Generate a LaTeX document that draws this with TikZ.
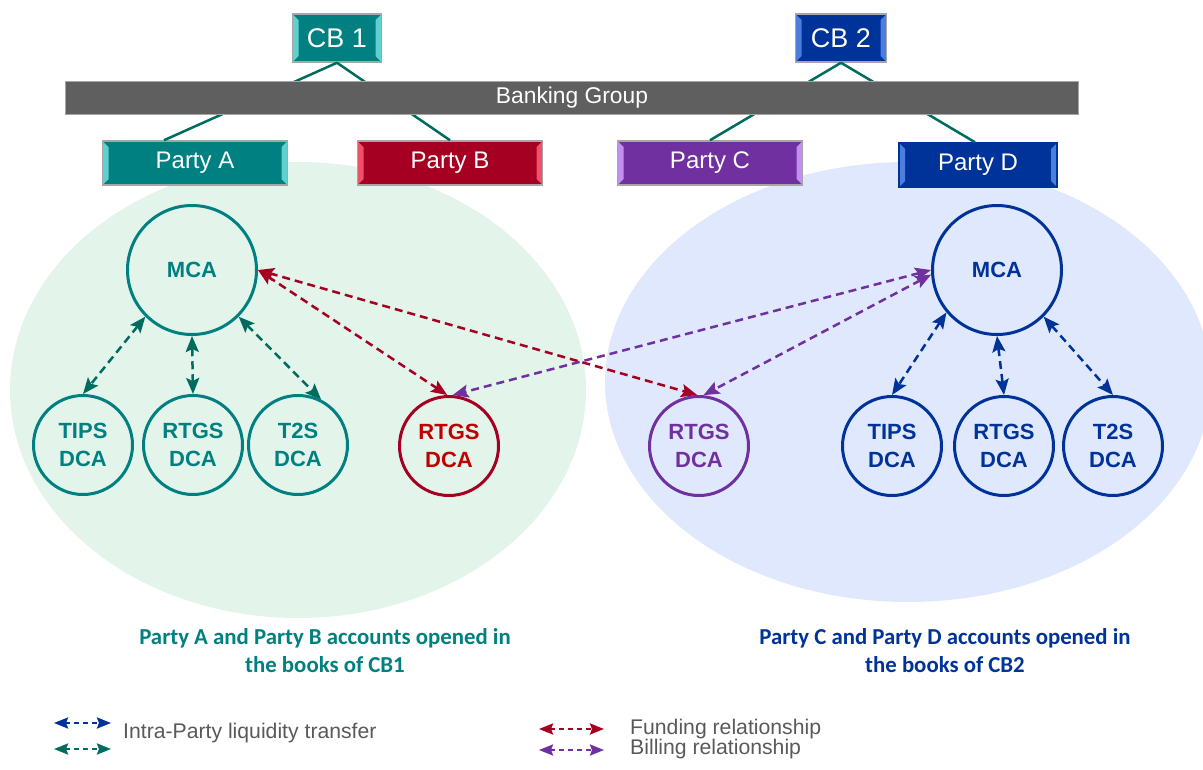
\documentclass[tikz,border=0pt]{standalone}
\usepackage{fontspec}
\setmainfont{Liberation Sans}
\newfontfamily\captfont{Carlito}
\usetikzlibrary{arrows.meta}
\definecolor{boxline}{HTML}{A6A6A6}
\definecolor{barfill}{HTML}{5F5F5F}
\definecolor{tealbox}{HTML}{008080}
\definecolor{tealhi}{HTML}{5FD0CE}
\definecolor{tealdark}{HTML}{006B5F}
\definecolor{redbox}{HTML}{A50021}
\definecolor{redhi}{HTML}{F0506A}
\definecolor{redtext}{HTML}{C00000}
\definecolor{purpbox}{HTML}{7030A0}
\definecolor{purphi}{HTML}{C38EF0}
\definecolor{bluebox}{HTML}{003399}
\definecolor{bluehi}{HTML}{4C7EE0}
\definecolor{greenarea}{HTML}{E3F5EB}
\definecolor{bluearea}{HTML}{DFE8FC}
\definecolor{legendgrey}{HTML}{595959}

\begin{document}
\begin{tikzpicture}[x=1pt,y=-1pt,
		box/.style 2 args={draw=boxline,line width=1.5pt,fill=#1,text=white,inner sep=0pt,
			path picture={
				\fill[#2] (path picture bounding box.north west) -- ++(6pt,-6pt) -- ([xshift=6pt,yshift=6pt]path picture bounding box.south west) -- (path picture bounding box.south west) -- cycle;
				\fill[#2] (path picture bounding box.north east) -- ++(-6pt,-6pt) -- ([xshift=-6pt,yshift=6pt]path picture bounding box.south east) -- (path picture bounding box.south east) -- cycle;
			}},
		cbbox/.style={minimum width=89pt,minimum height=48pt,font=\fontsize{27}{30}\selectfont},
		partybox/.style={minimum width=185pt,minimum height=44pt,font=\fontsize{24}{27}\selectfont},
		acc/.style={circle,draw=#1,text=#1,line width=3pt,minimum size=99pt,inner sep=0pt,align=center,font=\bfseries\fontsize{22}{28}\selectfont},
		mca/.style={acc=#1,minimum size=129pt},
		tree/.style={draw=tealdark,line width=2.5pt},
		link/.style={draw=#1,line width=2.5pt,dash pattern=on 8pt off 5pt,>={Stealth[length=16pt,width=13pt,inset=3pt]},<->},
		caption/.style={text=#1,align=center,font=\captfont\bfseries\fontsize{22.8}{28}\selectfont},
		legend/.style={anchor=west,inner sep=0pt,text=legendgrey,font=\fontsize{21.2}{24}\selectfont}]
	\useasboundingbox (0,0) rectangle (1203,769);
	\fill[greenarea] (298,390) ellipse [x radius=288pt,y radius=228pt];
	\fill[bluearea] (908,382) ellipse [x radius=303pt,y radius=220pt];

	\node[box={tealbox}{tealhi},cbbox] (cb1) at (337,38) {CB 1};
	\node[box={bluebox}{bluehi},cbbox,minimum width=91pt] (cb2) at (841,38) {CB 2};
	\node[box={tealbox}{tealhi},partybox] (pa) at (195,163) {Party A};
	\node[box={redbox}{redhi},partybox] (pb) at (450,163) {Party B};
	\node[box={purpbox}{purphi},partybox] (pc) at (710,163) {Party C};
	\node[box={bluebox}{bluehi},partybox,minimum width=158pt,draw=bluebox] (pd) at (978,165) {Party D};

	\draw[tree] (cb1.south) -- ([xshift=-31pt]pa.north);
	\draw[tree] (cb1.south) -- (pb.north);
	\draw[tree] (cb2.south) -- (pc.north);
	\draw[tree] (cb2.south) -- ([xshift=-3pt]pd.north);
	\node[draw=boxline,line width=1.5pt,fill=barfill,text=white,minimum width=1013pt,minimum height=33pt,font=\fontsize{22.8}{25}\selectfont] (bg) at (572,98) {Banking Group};

	\node[mca=tealbox] (mcaA) at (192,270) {MCA};
	\node[acc=tealbox] (tipsA) at (83,445) {TIPS\\DCA};
	\node[acc=tealbox] (rtgsA) at (193,445) {RTGS\\DCA};
	\node[acc=tealbox] (t2sA) at (298,445) {T2S\\DCA};
	\node[acc=redbox,text=redtext] (rtgsB) at (449,446) {RTGS\\DCA};
	\node[acc=purpbox] (rtgsC) at (699,446) {RTGS\\DCA};
	\node[mca=bluebox] (mcaD) at (997,270) {MCA};
	\node[acc=bluebox] (tipsD) at (892,446) {TIPS\\DCA};
	\node[acc=bluebox] (rtgsD) at (1004,446) {RTGS\\DCA};
	\node[acc=bluebox] (t2sD) at (1113,446) {T2S\\DCA};

	\draw[link=tealdark] (mcaA.225) -- (tipsA.north);
	\draw[link=tealdark] (mcaA.south) -- (rtgsA.north);
	\draw[link=tealdark] (mcaA.-45) -- (t2sA.63);
	\draw[link=bluebox] (mcaD.220) -- (tipsD.north);
	\draw[link=bluebox] (mcaD.south) -- (rtgsD.north);
	\draw[link=bluebox] (mcaD.-45) -- (t2sD.north);
	\draw[link=redbox] (mcaA.east) -- (rtgsB.92);
	\draw[link=redbox] (mcaA.east) -- (rtgsC.92);
	\draw[link=purpbox] (mcaD.west) -- (rtgsB.86);
	\draw[link=purpbox] (mcaD.184) -- (rtgsC.85);

	\node[caption=tealbox] (capA) at (325,651) {Party A and Party B accounts opened in\\the books of CB1};
	\node[caption=bluebox] (capD) at (945,651) {Party C and Party D accounts opened in\\the books of CB2};

	\foreach \nm/\px/\py/\len/\cl in {intra1/54/723/57/bluebox,intra2/54/749/57/tealdark,fund/539/729/65/redbox,bill/539/750/65/purpbox}{
		\coordinate (\nm-s) at (\px,\py);
		\coordinate (\nm-e) at (\px+\len,\py);
		\draw[link=\cl,dash pattern=on 5pt off 4pt,>={Stealth[length=14pt,width=11pt,inset=2pt]}] (\nm-s) -- (\nm-e);
	}
	\node[legend] (lgIntra) at (123,733) {Intra-Party liquidity transfer};
	\node[legend] (lgFund) at (630,729) {Funding relationship};
	\node[legend] (lgBill) at (630,749) {Billing relationship};
\end{tikzpicture}
\end{document}
